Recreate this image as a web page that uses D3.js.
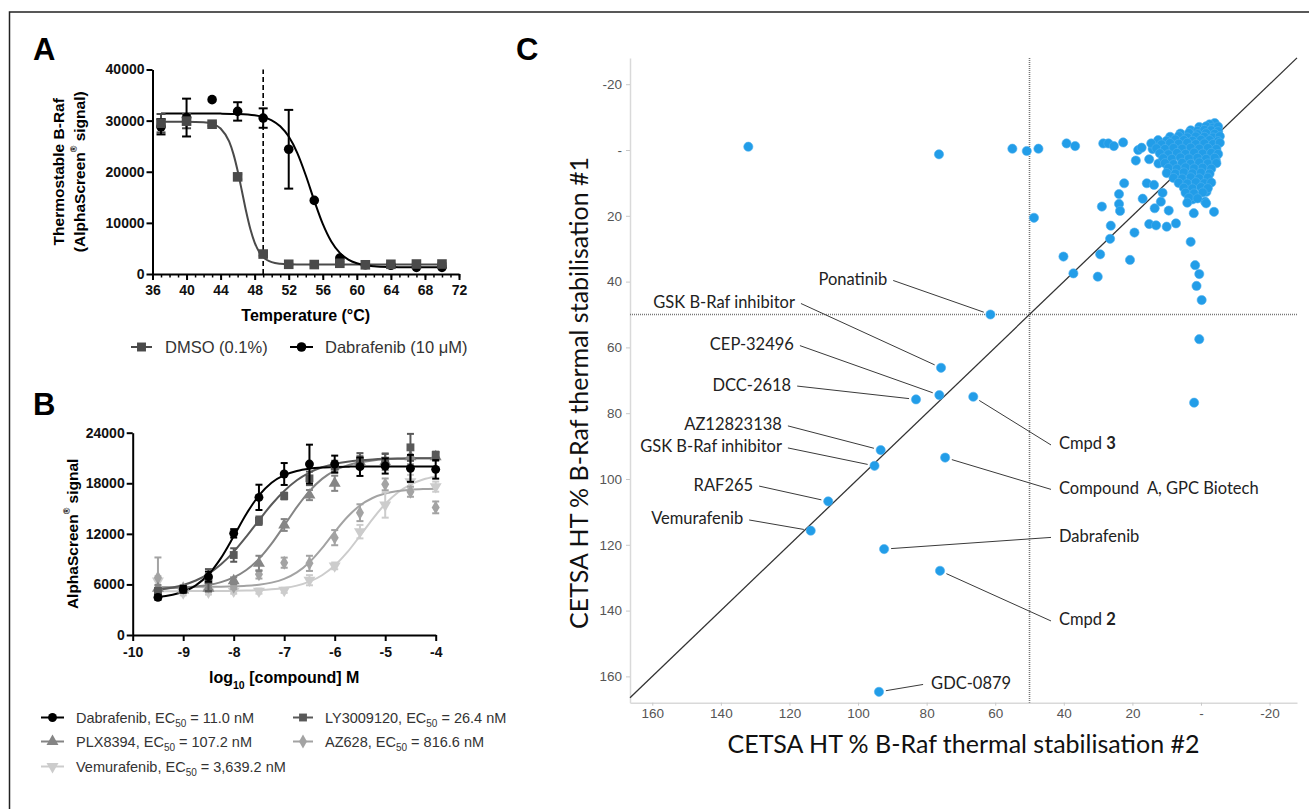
<!DOCTYPE html>
<html><head><meta charset="utf-8">
<script src="https://cdn.jsdelivr.net/npm/d3@7"></script>
<style>body{margin:0;background:#fff}svg{display:block}</style>
</head><body>
<svg id="fig" width="1309" height="809"></svg>
<script>
// ---------------- Panel A data ----------------
const tempA = [37,40,43,46,49,52,55,58,61,64,67,70];
const dmsoA = [29500,29900,29300,19000,3900,1900,1850,2100,1800,1900,1950,1950];
const dmsoErrA = [1800,1400,300,500,300,150,150,250,150,150,150,150];
const dabA = [28800,30600,34100,31800,30500,24400,14400,3100,1800,1700,1300,1300];
const dabErrA = [1500,3700,0,1800,1900,7700,0,0,0,0,0,0];
const dmsoFitT = [37,40,42,43,44,45,45.5,46,46.5,47,47.5,48,48.5,49,49.5,50,51,52,54,60,70];
const dmsoFit = [29800,29790,29670,29380,28470,25920,23500,20190,16240,12210,8740,6150,4410,3330,2690,2320,2000,1900,1860,1850,1850];
const dabFitT = [37,42,44,46,48,49,50,51,52,53,54,55,56,57,58,59,60,61,62,64,66,70];
const dabFit = [31400,31390,31370,31300,31040,30700,30060,28900,26880,23700,19320,14350,9800,6360,4130,2820,2100,1720,1520,1360,1310,1300];
const meltRef = 49;
const tickA_X = [36,40,44,48,52,56,60,64,68,72];
const tickA_Y = [0,10000,20000,30000,40000];

// ---------------- Panel B data ----------------
const logConcB = [-9.5,-9,-8.5,-8,-7.5,-7,-6.5,-6,-5.5,-5,-4.5,-4];
const dabB = [4470,5420,6920,12060,16330,19100,20280,20280,19970,20050,19770,19650];
const dabBErr = [300,400,600,500,1500,1300,2300,1000,1100,900,1600,1100];
const lyB = [5220,5460,6520,9490,13560,16490,18580,19970,20680,20680,22260,21350];
const lyBErr = [300,400,1300,800,500,400,800,700,900,800,1600,400];
const plxB = [5540,5340,5540,6440,8500,13050,16600,18000,20560,20560,21150,21150];
const plxBErr = [400,300,400,400,900,700,600,900,700,1000,900,500];
const azB = [6800,5540,5730,5730,7200,8580,8500,11550,14510,17870,17000,15140];
const azBErr = [2400,300,300,300,500,600,900,900,1000,700,600,700];
const vemB = [6400,5000,5100,5200,5200,5300,6500,8200,12260,15420,18200,17600];
const vemBErr = [600,300,300,300,300,300,600,400,800,1500,800,600];
const fitXB = [-9.5,-9,-8.75,-8.5,-8.25,-8,-7.75,-7.5,-7.25,-7,-6.75,-6.5,-6.25,-6,-5.75,-5.5,-5.25,-5,-4.75,-4.5,-4.25,-4];
const dabFitB = [4519,5137,5886,7176,9154,11706,14358,16556,18060,18965,19463,19726,19862,19930,19970,19985,19993,19997,20000,20000,20000,20000];
const lyFitB = [5363,5930,6466,7260,8387,9870,11667,13607,15485,17094,18359,19269,19894,20302,20566,20730,20834,20897,20937,20960,20975,20985];
const plxFitB = [5546,5644,5753,5944,6273,6825,7705,9031,10836,12981,15169,17076,18520,19502,20118,20492,20710,20836,20908,20948,20971,20983];
const azFitB = [5700,5705,5710,5720,5738,5774,5842,5972,6216,6659,7428,8641,10315,12229,14004,15361,16253,16779,17071,17228,17311,17354];
const vemFitB = [5201,5204,5207,5212,5222,5239,5268,5322,5415,5577,5856,6328,7088,8239,9823,11755,13761,15537,16905,17846,18443,18805];
const compoundsB = ["Dabrafenib","LY3009120","PLX8394","AZ628","Vemurafenib"];
const ec50B = ["11.0","26.4","107.2","816.6","3,639.2"];
const tickB_X = [-10,-9,-8,-7,-6,-5,-4];
const tickB_Y = [0,6000,12000,18000,24000];

// ---------------- Panel C data ----------------
const namedC = [
  {name:"Ponatinib", x:61.4, y:50},
  {name:"GSK B-Raf inhibitor", x:75.8, y:66.2},
  {name:"CEP-32496", x:76.3, y:74.5},
  {name:"DCC-2618", x:83.1, y:75.8},
  {name:"Cmpd ", bold:"3", x:66.4, y:75},
  {name:"AZ12823138", x:93.4, y:91.2},
  {name:"GSK B-Raf inhibitor", x:95.2, y:96},
  {name:"Compound  A, GPC Biotech", x:74.6, y:93.5},
  {name:"RAF265", x:108.7, y:106.8},
  {name:"Vemurafenib", x:113.8, y:115.7},
  {name:"Dabrafenib", x:92.4, y:121.3},
  {name:"Cmpd ", bold:"2", x:76.1, y:127.9},
  {name:"GDC-0879", x:93.9, y:164.7}
];
const otherC = [
  [132.0,-1.0],[76.4,1.3],[55.0,-0.4],[50.8,0.3],[47.4,-0.4],[39.2,-2.0],[36.7,-1.2],[28.5,-2.0],[27.0,-2.0],[25.4,-1.2],
  [22.7,-2.3],[18.3,0],[17.3,-0.7],[19.0,3.2],[15.1,2.8],[14.1,-0.3],[12.4,4.1],[48.7,20.6],[22.4,10.1],[23.9,13.4],
  [15.8,10.1],[13.7,10.6],[17.0,14.8],[28.9,17.2],[23.9,16.4],[23.6,18.5],[13.5,17.7],[11.7,15.7],[11.2,13.0],[9.4,18.4],
  [26.3,23.0],[26.5,27.0],[19.4,25.1],[15.1,22.5],[13.1,22.9],[10.0,23.3],[7.3,22.3],[2.1,19.2],[-3.8,18.8],[3.0,27.9],
  [40.1,32.4],[29.4,31.7],[37.2,37.5],[30.1,38.5],[20.7,33.4],[1.7,35.0],[0.5,37.7],[1.3,41.3],[-0.2,45.6],[0.5,57.5],
  [2.7,13.2],[2.4,15.0],[-1.2,15.7],[-1.6,12.7],[-4.3,3.0],[4.7,11.1],[2.0,76.8]
];
const clusterC = [
  [-4,-8.2],[-2.5,-7.8],
  [0.5,-7],[-1.5,-7.2],[-3.5,-6.8],[-5,-7.1],
  [3,-6],[1,-5.8],[-1,-6.1],[-3,-6],[-5,-5.7],
  [6,-5],[3.5,-5.2],[1,-4.8],[-1.5,-5.1],[-4,-4.9],
  [9,-4],[6.5,-4.2],[4,-3.8],[1.5,-4.1],[-1,-4],[-3.5,-3.8],[-5.5,-4.2],
  [12.5,-3],[10,-2.8],[7.5,-3.2],[5,-3],[2.5,-2.8],[0,-3.1],[-2.5,-3],[-5,-2.7],
  [14.5,-2],[11.5,-1.7],[9,-2.1],[6.5,-1.9],[4,-2.2],[1.5,-1.8],[-1,-2],[-3.5,-1.8],[-5.5,-2.2],
  [13,-0.5],[10.5,-0.3],[8,-0.6],[5.5,-0.4],[3,-0.7],[0.5,-0.4],[-2,-0.6],[-4.5,-0.3],
  [12,1],[9.5,1.3],[7,0.9],[4.5,1.2],[2,0.8],[-0.5,1.1],[-3,0.9],[-5,1.2],
  [11,2.5],[8.5,2.7],[6,2.3],[3.5,2.6],[1,2.4],[-1.5,2.7],[-4,2.4],
  [10.5,4],[8,4.3],[5.5,3.9],[3,4.2],[0.5,3.8],[-2,4.1],[-4.5,4],
  [9.5,5.5],[7,5.7],[4.5,5.3],[2,5.6],[-0.5,5.4],[-3,5.7],
  [10,7],[7.5,7.2],[5,6.8],[2.5,7.1],[0,6.9],[-2.5,7.2],
  [8,8.5],[5.5,8.7],[3,8.3],[0.5,8.6],[-2,8.4],
  [6.5,10],[4,10.2],[1.5,9.8],[-1,10.1],[-3,9.9],
  [5,11.5],[2.5,11.7],[0,11.3],[-2,11.6],
  [4.5,13],[2,13.2],[-0.5,12.9],
  [3.5,14.5],[1,14.7],
  [4,16],[-1.5,16.2]
];
const refLineC = 50;
const diagC = [-28,166.5];
const tickC = [-20,0,20,40,60,80,100,120,140,160];

// ---------------- layout helpers ----------------
const svg = d3.select("#fig");
const ARIAL = "'Liberation Sans', Arial, sans-serif";
const CAL = "Lato, 'Open Sans', sans-serif";

svg.append("rect").attr("x",9.5).attr("y",12).attr("width",1400).attr("height",900)
  .attr("fill","none").attr("stroke","#222").attr("stroke-width",1.5);

function panelLetter(t,x,y){
  svg.append("text").attr("x",x).attr("y",y).text(t).attr("font-family",ARIAL)
    .attr("font-weight","bold").attr("font-size",31).attr("fill","#000");
}
panelLetter("A",33,60); panelLetter("B",33,415); panelLetter("C",516,60);

function styleAxis(g,size){
  g.select(".domain").attr("stroke","#000").attr("stroke-width",2);
  g.selectAll(".tick line").attr("stroke","#000").attr("stroke-width",2);
  g.selectAll(".tick text").attr("font-family",ARIAL).attr("font-weight","bold")
    .attr("font-size",size).attr("fill","#111");
}
function errBars(g, xs, ys, es, xS, yS, color, cap){
  xs.forEach((xv,i)=>{
    if(!es[i]) return;
    const x = xS(xv), y1 = yS(ys[i]-es[i]), y2 = yS(ys[i]+es[i]);
    g.append("line").attr("x1",x).attr("x2",x).attr("y1",y1).attr("y2",y2).attr("stroke",color).attr("stroke-width",2);
    [y1,y2].forEach(y=>g.append("line").attr("x1",x-cap).attr("x2",x+cap).attr("y1",y).attr("y2",y).attr("stroke",color).attr("stroke-width",2));
  });
}
const plainFmt = d => String(d).replace("\u2212","-");

// ================= Panel A =================
const xA = d3.scaleLinear([36,72],[152.5,459]);
const yA = d3.scaleLinear([0,40000],[274,69.5]);
const gA = svg.append("g");
gA.append("g").attr("transform",`translate(0,${yA(0)})`)
  .call(d3.axisBottom(xA).tickValues(d3.range(36,73,1)).tickSize(3.5).tickFormat(""))
  .call(g=>{g.select(".domain").remove(); g.selectAll("line").attr("stroke","#000").attr("stroke-width",1.5);});
gA.append("g").attr("transform",`translate(0,${yA(0)})`)
  .call(d3.axisBottom(xA).tickValues(tickA_X).tickSize(6).tickSizeOuter(0).tickPadding(5).tickFormat(plainFmt))
  .call(g=>styleAxis(g,14));
gA.append("g").attr("transform",`translate(${xA(36)},0)`)
  .call(d3.axisLeft(yA).tickValues(tickA_Y).tickSize(6).tickSizeOuter(0).tickPadding(2).tickFormat(plainFmt))
  .call(g=>styleAxis(g,14));
gA.append("line").attr("x1",xA(meltRef)).attr("x2",xA(meltRef)).attr("y1",yA(0)).attr("y2",yA(40000))
  .attr("stroke","#000").attr("stroke-width",1.6).attr("stroke-dasharray","5,3");
const lineA = d3.line().x(d=>xA(d[0])).y(d=>yA(d[1])).curve(d3.curveMonotoneX);
gA.append("path").attr("d",lineA(dmsoFitT.map((t,i)=>[t,dmsoFit[i]]))).attr("fill","none").attr("stroke","#4a4a4a").attr("stroke-width",2);
gA.append("path").attr("d",lineA(dabFitT.map((t,i)=>[t,dabFit[i]]))).attr("fill","none").attr("stroke","#000").attr("stroke-width",2);
errBars(gA,tempA,dmsoA,dmsoErrA,xA,yA,"#4a4a4a",4.5);
errBars(gA,tempA,dabA,dabErrA,xA,yA,"#000",4.5);
gA.selectAll(".dab").data(tempA).join("circle").attr("cx",d=>xA(d)).attr("cy",(d,i)=>yA(dabA[i])).attr("r",4.8).attr("fill","#000");
gA.selectAll(".dmso").data(tempA).join("rect").attr("x",d=>xA(d)-4.8).attr("y",(d,i)=>yA(dmsoA[i])-4.8)
  .attr("width",9.6).attr("height",9.6).attr("fill","#4a4a4a");
gA.append("text").attr("x",(xA(36)+xA(72))/2).attr("y",321).attr("text-anchor","middle")
  .attr("font-family",ARIAL).attr("font-weight","bold").attr("font-size",16).text("Temperature (°C)");
gA.append("text").attr("transform",`translate(58,${(yA(0)+yA(40000))/2}) rotate(-90)`)
  .attr("text-anchor","middle").attr("dominant-baseline","central").attr("font-family",ARIAL)
  .attr("font-weight","bold").attr("font-size",15.5).text("Thermostable B-Raf");
const tA2 = gA.append("text").attr("transform",`translate(79,${(yA(0)+yA(40000))/2}) rotate(-90)`)
  .attr("text-anchor","middle").attr("dominant-baseline","central").attr("font-family",ARIAL)
  .attr("font-weight","bold").attr("font-size",15.5);
tA2.append("tspan").text("(AlphaScreen");
tA2.append("tspan").attr("font-size",9).attr("baseline-shift","super").text("®");
tA2.append("tspan").text(" signal)");
function legendItem(g,x0,x1,y,color,shape,label,tx,fs){
  g.append("line").attr("x1",x0).attr("x2",x1).attr("y1",y).attr("y2",y).attr("stroke",color).attr("stroke-width",2);
  g.append("path").attr("transform",`translate(${(x0+x1)/2},${y})${shape.rot?" rotate(180)":""}`)
    .attr("d",d3.symbol().type(shape.type).size(shape.size)()).attr("fill",color);
  const t = g.append("text").attr("x",tx).attr("y",y).attr("dominant-baseline","central")
    .attr("font-family",ARIAL).attr("font-size",fs).attr("fill","#333");
  label(t);
}
legendItem(gA,131,152,347,"#4a4a4a",{type:d3.symbolSquare,size:80},t=>t.text("DMSO (0.1%)"),165,16.5);
legendItem(gA,290,313,347,"#000",{type:d3.symbolCircle,size:72},t=>t.text("Dabrafenib (10 μM)"),325,16.5);

// ================= Panel B =================
const xB = d3.scaleLinear([-10,-4],[132.7,435.7]);
const yB = d3.scaleLinear([0,24000],[635,432.7]);
const gB = svg.append("g");
gB.append("g").attr("transform",`translate(0,${yB(0)})`)
  .call(d3.axisBottom(xB).tickValues(tickB_X).tickSize(6).tickSizeOuter(0).tickPadding(6).tickFormat(plainFmt))
  .call(g=>styleAxis(g,14));
gB.append("g").attr("transform",`translate(${xB(-10)},0)`)
  .call(d3.axisLeft(yB).tickValues(tickB_Y).tickSize(6).tickSizeOuter(0).tickPadding(2).tickFormat(plainFmt))
  .call(g=>styleAxis(g,14));
const colorsB = ["#000","#595959","#858585","#a3a3a3","#cccccc"];
const shapesB = [{type:d3.symbolCircle,size:62},{type:d3.symbolSquare,size:62},{type:d3.symbolTriangle,size:62},
                 {type:d3.symbolDiamond,size:56},{type:d3.symbolTriangle,size:62,rot:true}];
const valsB = [dabB,lyB,plxB,azB,vemB];
const errsB = [dabBErr,lyBErr,plxBErr,azBErr,vemBErr];
const fitsB = [dabFitB,lyFitB,plxFitB,azFitB,vemFitB];
const lineB = d3.line().x(d=>xB(d[0])).y(d=>yB(d[1])).curve(d3.curveMonotoneX);
[4,3,2,1,0].forEach(k=>{
  gB.append("path").attr("d",lineB(fitXB.map((x,i)=>[x,fitsB[k][i]]))).attr("fill","none")
    .attr("stroke",colorsB[k]).attr("stroke-width",2);
});
[4,3,2,1,0].forEach(k=>{
  errBars(gB,logConcB,valsB[k],errsB[k],xB,yB,colorsB[k],3.5);
  gB.selectAll(null).data(logConcB).join("path")
    .attr("transform",(d,i)=>`translate(${xB(d)},${yB(valsB[k][i])})${shapesB[k].rot?" rotate(180)":""}`)
    .attr("d",d3.symbol().type(shapesB[k].type).size(shapesB[k].size)()).attr("fill",colorsB[k]);
});
const tBx = gB.append("text").attr("x",(xB(-10)+xB(-4))/2).attr("y",683).attr("text-anchor","middle")
  .attr("font-family",ARIAL).attr("font-weight","bold").attr("font-size",16);
tBx.append("tspan").text("log");
tBx.append("tspan").attr("font-size",10.5).attr("baseline-shift","sub").text("10");
tBx.append("tspan").text(" [compound] M");
const tBy = gB.append("text").attr("transform",`translate(72,${(yB(0)+yB(24000))/2}) rotate(-90)`)
  .attr("text-anchor","middle").attr("dominant-baseline","central").attr("font-family",ARIAL)
  .attr("font-weight","bold").attr("font-size",15.5);
tBy.append("tspan").text("AlphaScreen");
tBy.append("tspan").attr("font-size",9).attr("baseline-shift","super").text("®");
tBy.append("tspan").text(" signal");
const legPosB = [[41,64,76,717.5],[293,313,325,717.5],[41,64,76,741.5],[293,313,325,741.5],[41,64,76,766.5]];
compoundsB.forEach((c,k)=>{
  const p = legPosB[k];
  legendItem(gB,p[0],p[1],p[3],colorsB[k],shapesB[k],t=>{
    t.append("tspan").text(c+", EC");
    t.append("tspan").attr("font-size",10).attr("baseline-shift","sub").text("50");
    t.append("tspan").text(" = "+ec50B[k]+" nM");
  },p[2],14.5);
});

// ================= Panel C =================
const xC = d3.scaleLinear([166.5,-28],[630,1297]);
const yC = d3.scaleLinear([-28,168],[57.9,702.7]);
const gC = svg.append("g");
const fmtC = d=> d===0 ? "-" : plainFmt(d);
gC.append("g").attr("transform",`translate(${xC(166.5)},0)`)
  .call(d3.axisLeft(yC).tickValues(tickC).tickSize(4).tickSizeOuter(0).tickPadding(4).tickFormat(fmtC))
  .call(g=>{g.select(".domain").attr("stroke","#d9d9d9").attr("stroke-width",1.5);
    g.selectAll(".tick line").attr("stroke","#c8c8c8");
    g.selectAll(".tick text").attr("font-family",ARIAL).attr("font-size",13.5).attr("fill","#555");});
gC.append("g").attr("transform",`translate(0,${yC(168)})`)
  .call(d3.axisBottom(xC).tickValues(tickC).tickSize(3).tickSizeOuter(0).tickPadding(3).tickFormat(fmtC))
  .call(g=>{g.select(".domain").attr("stroke","#d9d9d9").attr("stroke-width",1.5);
    g.selectAll(".tick line").attr("stroke","#c8c8c8");
    g.selectAll(".tick text").attr("font-family",ARIAL).attr("font-size",13.5).attr("fill","#555");});
gC.append("line").attr("x1",xC(166.5)).attr("x2",xC(-28)).attr("y1",yC(refLineC)).attr("y2",yC(refLineC))
  .attr("stroke","#777").attr("stroke-width",1.6).attr("stroke-dasharray","1,1");
gC.append("line").attr("x1",xC(refLineC)).attr("x2",xC(refLineC)).attr("y1",yC(-28)).attr("y2",yC(168))
  .attr("stroke","#777").attr("stroke-width",1.6).attr("stroke-dasharray","1,1");
gC.append("line").attr("x1",xC(diagC[1])).attr("y1",yC(diagC[1])).attr("x2",xC(diagC[0])).attr("y2",yC(diagC[0]))
  .attr("stroke","#333").attr("stroke-width",1.3);
const allPts = otherC.concat(clusterC).concat(namedC.map(d=>[d.x,d.y]));
gC.selectAll(".pt").data(allPts).join("circle").attr("cx",d=>xC(d[0])).attr("cy",d=>yC(d[1]))
  .attr("r",4.6).attr("fill","#229de8").attr("stroke","#4fb0ee").attr("stroke-width",0.6);
const labelLayout = [
  {lx:91.5,ly:39.2,a:"end"},{lx:118.4,ly:46.2,a:"end"},{lx:118.7,ly:59,a:"end"},{lx:119.5,ly:71.3,a:"end"},
  {lx:41.4,ly:89.2,a:"start"},{lx:122.2,ly:83.4,a:"end"},{lx:122.2,ly:90.1,a:"end"},{lx:41.4,ly:102.7,a:"start"},
  {lx:130.6,ly:101.7,a:"end"},{lx:133.5,ly:112,a:"end"},{lx:41.4,ly:117.3,a:"start"},{lx:41.4,ly:142.7,a:"start"},
  {lx:78.7,ly:162,a:"start"}
];
namedC.forEach((d,i)=>{
  const L = labelLayout[i];
  const tx = xC(L.lx), ty = yC(L.ly);
  const sx = L.a==="end" ? tx+6 : tx-8, sy = ty+1.5;
  const px = xC(d.x), py = yC(d.y);
  const dx = sx-px, dy = sy-py, len = Math.hypot(dx,dy);
  const ex = px + dx/len*7, ey = py + dy/len*7;
  gC.append("line").attr("x1",sx).attr("y1",sy).attr("x2",ex).attr("y2",ey).attr("stroke","#3a3a3a").attr("stroke-width",1);
  const t = gC.append("text").attr("x",tx).attr("y",ty).attr("text-anchor",L.a).attr("dominant-baseline","central")
    .attr("font-family",CAL).attr("font-size",16.5).attr("fill","#222").style("white-space","pre");
  t.append("tspan").text(d.name);
  if(d.bold) t.append("tspan").attr("font-weight","bold").text(d.bold);
});
gC.append("text").attr("x",(xC(166.5)+xC(-28))/2).attr("y",743).attr("text-anchor","middle").attr("dominant-baseline","central")
  .attr("font-family",CAL).attr("font-size",25).attr("fill","#111").text("CETSA HT % B-Raf thermal stabilisation #2");
gC.append("text").attr("transform",`translate(578,393) rotate(-90)`).attr("text-anchor","middle").attr("dominant-baseline","central")
  .attr("font-family",CAL).attr("font-size",25).attr("fill","#111").text("CETSA HT % B-Raf thermal stabilisation #1");
</script></body></html>
